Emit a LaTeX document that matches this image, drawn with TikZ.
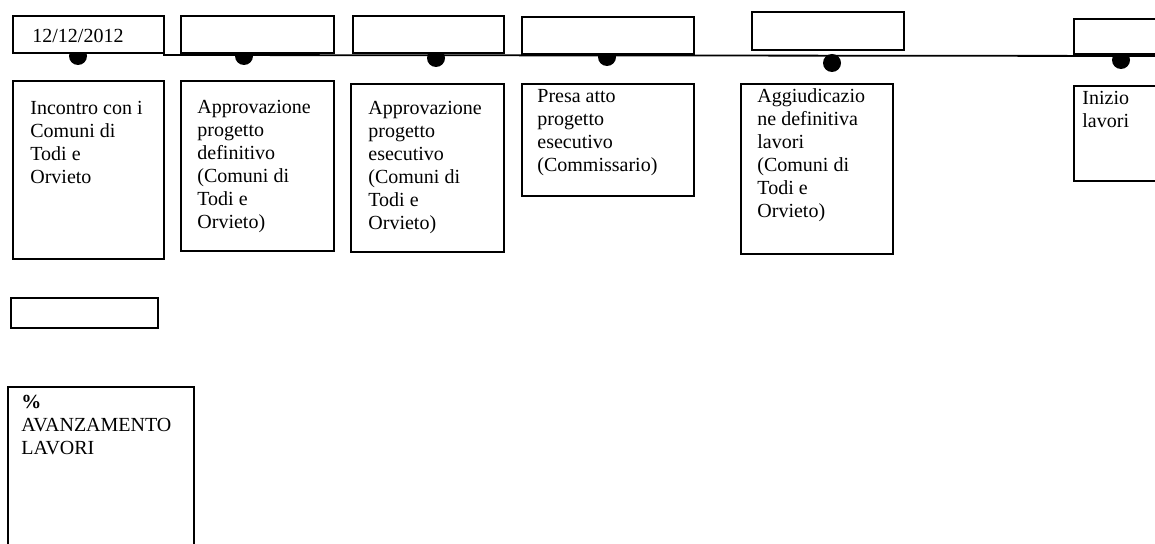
\documentclass[tikz,border=0pt]{standalone}
\usepackage{fontspec}
\setmainfont{Liberation Serif}
\begin{document}
\begin{tikzpicture}[x=0.5pt, y=-0.5pt,
  casella/.style={draw, line width=0.9pt, fill=white, anchor=north west, inner sep=0pt},
  scritta/.style={anchor=north west, align=left, inner sep=0pt, font=\fontsize{10}{11.5}\selectfont},
  pallino/.style={circle, fill=black, inner sep=0pt, minimum size=9pt}]

 \useasboundingbox (0,0) rectangle (1155,544);
 \clip (0,0) rectangle (1155,544);

 % timeline
 \coordinate (inizio) at (163,55);
 \coordinate (fine) at (1160,56);
 \draw[line width=0.9pt] (inizio) -- (fine);

 \foreach \i/\x/\y in { 1/78/56, 2/244/56, 3/436/58, 4/607/57, 5/832/63, 6/1121/60 }
   \node[pallino] (p\i) at (\x,\y) {};

 %date boxes
 \foreach \i/\x/\y/\w/\h in { 1/12/15/151/37, 2/180/15/153/37, 3/352/15/151/37,
                              4/521/16/172/37, 5/751/11/152/38, 6/1073/18/100/35 }
   \node[casella, minimum width=\w*0.5pt, minimum height=\h*0.5pt] (data\i) at (\x,\y) {};
 \node[scritta] (d1) at ([shift={(20,14)}]data1.north west) {12/12/2012};

 %event boxes
 \foreach \i/\x/\y/\w/\h in { 1/12/80/151/178, 2/180/80/153/170, 3/350/83/153/168,
                              4/521/83/172/112, 5/740/83/152/170, 6/1073/85/100/95 }
   \node[casella, minimum width=\w*0.5pt, minimum height=\h*0.5pt] (ev\i) at (\x,\y) {};

 \node[scritta] (t1) at ([shift={(18,21)}]ev1.north west) {Incontro con i\\Comuni di\\Todi e\\Orvieto};
 \node[scritta] (t2) at ([shift={(17,20)}]ev2.north west) {Approvazione\\progetto\\definitivo\\(Comuni di\\Todi e\\Orvieto)};
 \node[scritta] (t3) at ([shift={(18,18)}]ev3.north west) {Approvazione\\progetto\\esecutivo\\(Comuni di\\Todi e\\Orvieto)};
 \node[scritta] (t4) at ([shift={(16,6)}]ev4.north west) {Presa atto\\progetto\\esecutivo\\(Commissario)};
 \node[scritta] (t5) at ([shift={(17,5)}]ev5.north west) {Aggiudicazio\\ne definitiva\\lavori\\(Comuni di\\Todi e\\Orvieto)};
 \node[scritta] (t6) at ([shift={(9,6)}]ev6.north west) {Inizio\\lavori};

 %level 2
 \node[casella, minimum width=147*0.5pt, minimum height=30*0.5pt] (perc) at (10,297) {};
 \node[casella, minimum width=186*0.5pt, minimum height=170*0.5pt] (avanz) at (7,386) {};
 \node[scritta] (ta) at ([shift={(14,9)}]avanz.north west) {\textbf{\%}\\AVANZAMENTO\\LAVORI};

\end{tikzpicture}
\end{document}
